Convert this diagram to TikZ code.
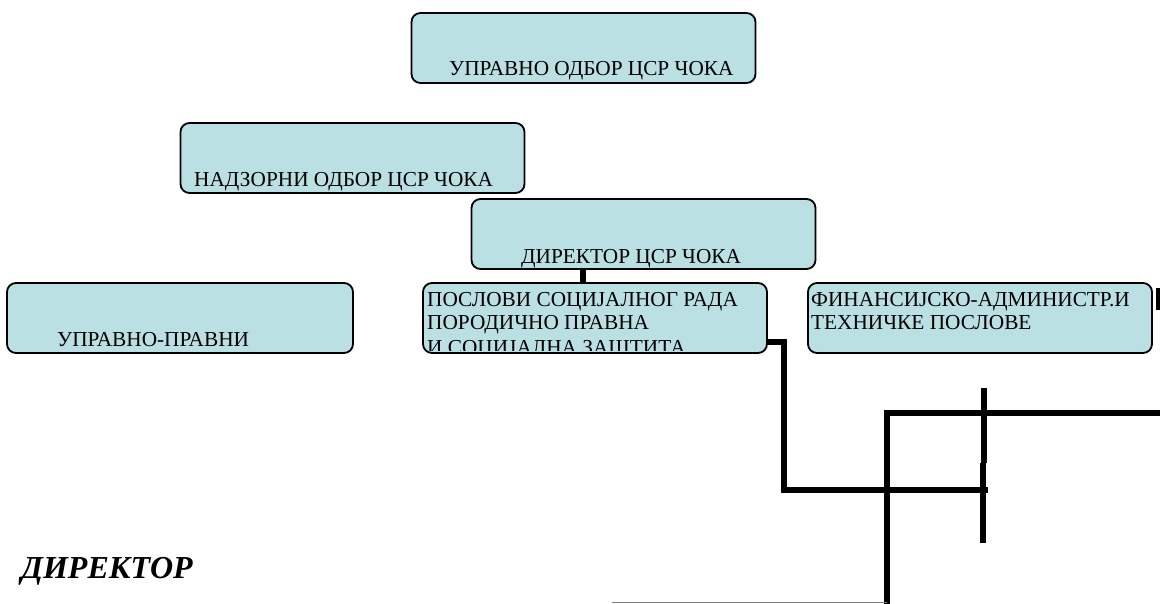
\documentclass[tikz,border=0pt]{standalone}
\usepackage{fontspec}
\setmainfont{Liberation Serif}
\usetikzlibrary{positioning}
\definecolor{boxfill}{RGB}{187,224,227}

\begin{document}
\begin{tikzpicture}[x=1pt,y=-1pt]
\tikzstyle{obox}=[
	rectangle,
	rounded corners=9pt,
	draw,
	line width=1.8pt,
	fill=boxfill,
	minimum width=344,
	minimum height=70 ]
\tikzstyle{lbl}=[anchor=base west, inner sep=0pt, font=\fontsize{21.3}{23}\selectfont]
\tikzstyle{link}=[line width=5.5pt, line join=miter]
\useasboundingbox (0,0) rectangle (1160,603);
\clip (0,0) rectangle (1160,603);
\node[obox] (uprodb) at (583.5,48) {};
\node[obox] (nadzodb) at (352.5,158) {};
\node[obox] (dir) at (643.5,234) {};
\node[obox, minimum width=346] (uprpr) at (180,318) {};
\node[obox] (posl) at (595,318) {};
\node[obox] (fin) at (980,318) {};
\node[lbl] (tupr) at (449,75) {УПРАВНО ОДБОР ЦСР ЧОКА};
\node[lbl] (tnadz) at (194,186) {НАДЗОРНИ ОДБОР ЦСР ЧОКА};
\node[lbl] (tdir) at (521,263) {ДИРЕКТОР ЦСР ЧОКА};
\node[lbl] (tuprpr) at (57,346) {УПРАВНО-ПРАВНИ};
\begin{scope}
	\clip ([shift={(1.5pt,3pt)}]posl.south west) rectangle ([shift={(-1.5pt,-1.5pt)}]posl.north east);
	\node[lbl] (tposl1) at (427,306) {ПОСЛОВИ СОЦИЈАЛНОГ РАДА};
	\node[lbl] (tposl2) at (427,329) {ПОРОДИЧНО ПРАВНА};
	\node[lbl] (tposl3) at (427,354) {И СОЦИЈАЛНА ЗАШТИТА};
\end{scope}
\node[lbl] (tfin1) at (811,306) {ФИНАНСИЈСКО-АДМИНИСТР.И};
\node[lbl] (tfin2) at (811,329) {ТЕХНИЧКЕ ПОСЛОВЕ};
\node[anchor=base west, inner sep=0pt, font=\fontsize{32}{36}\selectfont\bfseries\itshape] (bigdir) at (21,578) {ДИРЕКТОР};
\coordinate (c1) at (784,490);
\coordinate (c2) at (988,490);
\coordinate (f1) at (1162,413);
\coordinate (f2) at (887,413);
\coordinate (f3) at (887,606);
\coordinate (v1) at (984,388);
\coordinate (v2) at (984,463);
\coordinate (v3) at (983,463);
\coordinate (v4) at (983,543);
\coordinate (m1) at (1158,288);
\coordinate (m2) at (1158,310);
\coordinate (g1) at (612,602);
\draw[link] ([xshift=-60.5pt]dir.south) -- ([xshift=-60.5pt]dir.south |- posl.north);
\draw[link] ([yshift=-24pt]posl.east) -| (c1) -- (c2);
\draw[link] (f1) -- (f2) -- (f3);
\draw[link] (v1) -- (v2);
\draw[link] (v3) -- (v4);
\draw[line width=4pt] (m1) -- (m2);
\draw[line width=0.8pt, gray] (g1) -- (g1 -| f2);
\end{tikzpicture}
\end{document}
